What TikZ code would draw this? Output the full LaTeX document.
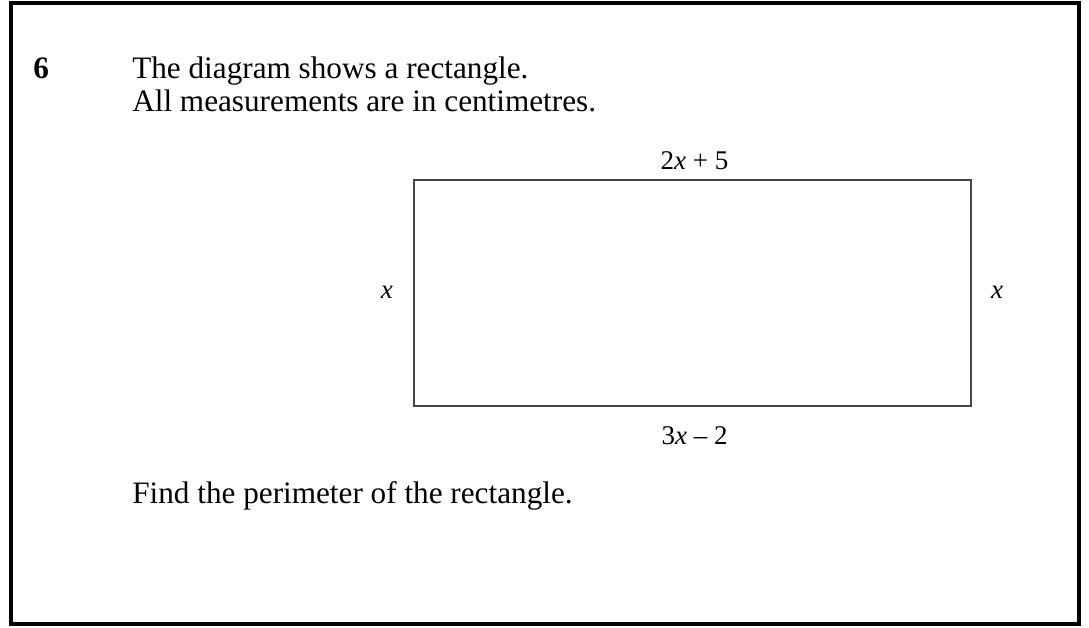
\documentclass[tikz,border=0pt]{standalone}
\usepackage{fontspec}
\setmainfont{Liberation Serif}
\usepackage{tikz}
\usetikzlibrary{positioning, calc}
\definecolor{edgeGrey}{RGB}{70, 70, 70}

\begin{document}
\begin{tikzpicture}[x=0.025cm, y=-0.025cm, every node/.style={font=\fontsize{22.2}{26}\selectfont, inner sep=0pt},
    txt/.style={anchor=base west},
    lbl/.style={anchor=base, font=\fontsize{19.2}{23}\selectfont},
    rectbox/.style={draw=edgeGrey, line width=1.5pt, minimum width=13.925cm, minimum height=5.65cm}]
    \useasboundingbox (0,0) rectangle (1089,628);
    % Frame
    \draw[line width=2.2pt] (11,3) rectangle (1079,624);
    % Question
    \node[txt, font=\fontsize{22.2}{26}\selectfont\bfseries] (num) at (33,79) {6};
    \node[txt] (q1) at (132,79) {The diagram shows a rectangle.};
    \node[txt] (q2) at (132,112) {All measurements are in centimetres.};
    % Rectangle
    \node[rectbox] (rect) at (692.5,293) {};
    % Side labels
    \node[lbl] (top) at ($(rect.north)+(2,-9)$) {2\textit{x} + 5};
    \node[lbl] (bot) at ($(rect.south)+(2,37)$) {3\textit{x} – 2};
    \node[lbl] (left) at ($(rect.west)+(-26,6)$) {\textit{x}};
    \node[lbl] (right) at ($(rect.east)+(25,6)$) {\textit{x}};
    % Task
    \node[txt] (task) at (132,503) {Find the perimeter of the rectangle.};
  \end{tikzpicture}
\end{document}
